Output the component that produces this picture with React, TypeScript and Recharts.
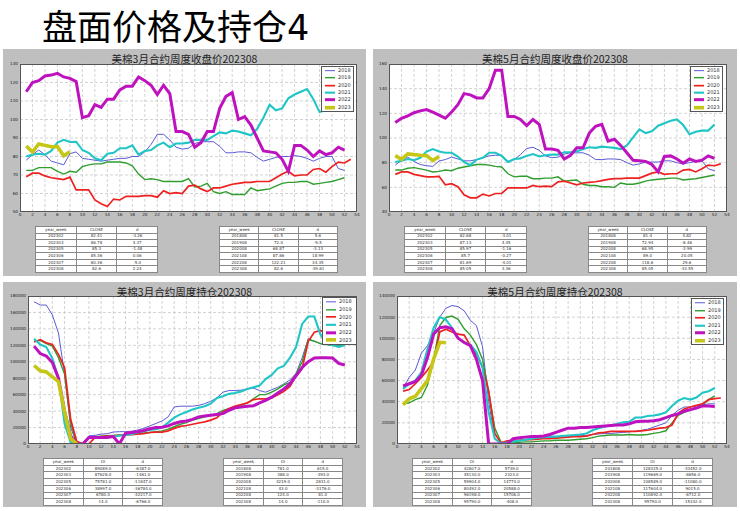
import React from 'react';
import { LineChart, Line, XAxis, YAxis, CartesianGrid, Legend } from 'recharts';

// ---------- series meta ----------
const YEARS = ['2018', '2019', '2020', '2021', '2022', '2023'];
const COLORS = ['#5b5bd6', '#2f9e2f', '#ee2020', '#20c6c6', '#bf12bf', '#c6c617'];
const WIDTHS = [1, 1.4, 1.7, 2.1, 3, 3.6];

// ---------- ticks ----------
const X_TICKS = [0, 2, 4, 6, 8, 10, 12, 14, 16, 18, 20, 22, 24, 26, 28, 30, 32, 34, 36, 38, 40, 42, 44, 46, 48, 50, 52, 54];
const Y_TICKS_MAR_CLOSE = [50, 60, 70, 80, 90, 100, 110, 120, 130];
const Y_TICKS_MAY_CLOSE = [40, 60, 80, 100, 120, 140, 160];
const Y_TICKS_MAR_OI = [0, 20000, 40000, 60000, 80000, 100000, 120000, 140000, 160000, 180000];
const Y_TICKS_MAY_OI = [0, 20000, 40000, 60000, 80000, 100000, 120000, 140000];

// ---------- 美棉3月 收盘价 (week 1..) ----------
const mar_close_2018 = [78, 81, 83.5, 81, 77.5, 76.5, 75.5, 81.5, 82.5, 79, 78.5, 78, 77.5, 78, 78.5, 79, 79, 80, 80, 82.5, 86.5, 92, 92, 89, 85, 84, 84.5, 87, 88, 88, 88, 85.5, 82, 82, 82.5, 82.5, 82, 79.5, 77.5, 78.5, 79.5, 80, 80, 80.5, 80, 79, 77.5, 79, 80, 80, 73.5, 72.5];
const mar_close_2019 = [72.5, 72.5, 74, 74, 74, 72, 70.5, 72, 71.5, 74.5, 75.5, 76, 76, 77, 77, 77, 76.5, 75, 70.5, 67.5, 68, 67.5, 66.5, 66.5, 66.5, 66.5, 68, 63.5, 64, 65.5, 61, 60, 61, 59.5, 59.5, 59.5, 63, 61.5, 62, 62.5, 64, 65.5, 66, 66, 66.5, 66.5, 65, 65.5, 66, 66.5, 67.5, 68.5];
const mar_close_2020 = [69, 71, 71, 69.5, 68.5, 68, 67.5, 68.87, 62, 62, 62, 56.5, 54.5, 53, 57, 56.5, 58.5, 58.5, 58.5, 58.8, 58.8, 58, 61.5, 60, 60.5, 60, 64, 64.5, 62.5, 61, 63, 63, 64, 65, 65.5, 66, 66, 66.5, 66.5, 66.5, 68.5, 70.5, 72, 69.5, 70, 70, 73, 73.5, 71.5, 74.5, 77, 76.5, 78.5];
const mar_close_2021 = [80, 81, 81.5, 81, 83, 87.5, 89, 87.86, 88, 83.5, 82, 79, 78, 81.5, 82, 84.5, 84.5, 86, 81, 83, 83.5, 86, 87.5, 85, 87, 87, 87.5, 89, 89, 89, 91, 93, 92.5, 94, 93.5, 92.5, 91.5, 95, 101, 108, 105, 106, 111.5, 113.5, 115, 116.5, 111, 104, 105, 106, 106, 108];
const mar_close_2022 = [115, 120, 121, 123.5, 124, 125, 123, 122.21, 120.5, 101, 102, 108, 106.5, 111, 111, 116, 118, 118, 123, 121, 118.5, 113.5, 118.5, 114, 93.5, 93.5, 92, 85, 87.5, 93.5, 93.5, 106, 112.5, 114.5, 100, 101.5, 97, 90, 83, 82.5, 82, 78.5, 72, 86, 86, 83.5, 80, 83, 81, 82, 85, 83.5];
const mar_close_2023 = [85.67, 82.41, 86.78, null, 85.3, 85.36, 80.36, 82.6];

// ---------- 美棉5月 收盘价 ----------
const may_close_2018 = [78, 82, 84.5, 81, 78.5, 77.5, 77, 81.4, 82.5, 84.5, 83, 81.5, 81.5, 82.5, 84, 85.5, 86, 86, 81, 82.5, 86.5, 91.5, 92.5, 90, 85.5, 84, 84.5, 87, 88, 88, 88, 86, 82.5, 82.5, 83, 83, 82.5, 80, 78, 79, 80.5, 80.5, 80.5, 81.5, 81.5, 80, 79, 80, 81, 81.5, 75, 73.5];
const may_close_2019 = [74, 74, 75.5, 76, 75, 74, 72.5, 72.94, 74, 73.5, 75.5, 76.5, 77.5, 78.5, 78.5, 78, 77, 76.5, 71, 68.5, 69, 69, 67, 67, 67.5, 67.5, 68.5, 65, 65.5, 66, 62.5, 61.5, 61.5, 60.5, 60.5, 60, 63.5, 62.5, 62.5, 63.5, 65, 66, 66.5, 67, 67.5, 67.5, 66, 66.5, 67, 68, 69, 70];
const may_close_2020 = [70.5, 72.5, 72.5, 70.5, 69.5, 68.5, 68.5, 68.95, 62, 63, 60.5, 54, 51.5, 51.5, 54.5, 53, 55, 55, 59.5, 59.5, 59.5, 59.5, 61.5, 60.5, 61, 60.5, 64.5, 65, 63.5, 62, 63.5, 64, 64.5, 65.5, 66.5, 67, 67, 67.5, 67.5, 67.5, 69.5, 71.5, 72.5, 70.5, 71, 71, 74, 74.5, 72.5, 75, 78, 77.5, 79];
const may_close_2021 = [80.5, 81.5, 83, 82, 84, 89, 91, 89, 88, 88, 85, 80.5, 78, 82.5, 84, 88, 88, 85.5, 80.5, 83, 83.5, 85.5, 87, 85, 86, 86.5, 86.5, 88.5, 88.5, 89, 91, 92.5, 92, 93, 92.5, 92, 91, 94, 100.5, 107, 104, 105.5, 110, 112, 114, 115, 110.5, 103, 105, 106, 106, 111];
const may_close_2022 = [112.5, 116, 118, 120.5, 122, 123, 121, 118.6, 116, 121, 127, 136, 135, 132.5, 132.5, 140, 155, 155, 117.5, 117.5, 115, 110, 115, 111, 91, 91, 90, 83, 86, 92, 92, 104, 109.5, 111, 97.5, 99, 94, 88, 82, 81.5, 81, 78.5, 72.5, 85, 85.5, 83, 79.5, 83, 81, 82, 85.5, 83.5];
const may_close_2023 = [85.69, 82.68, 87.13, null, 85.97, 85.7, 81.69, 85.05];

// ---------- 美棉3月 持仓 ----------
const mar_oi_2018 = [173000, 169000, 169000, 157000, 135000, 85000, 20000, 781, 500, 10000, 10500, 12000, 12500, 14500, 15000, 15000, 15500, 17000, 19000, 22000, 25000, 28000, 33000, 45000, 46000, 46000, 46000, 47000, 49000, 52000, 56000, 63000, 65000, 65000, 65500, 67000, 68000, 65000, 63000, 66000, 69000, 73000, 78000, 86000, 105000, 128000, 125000, 122000, 121000, 120000, 120000, 121000];
const mar_oi_2019 = [125000, 126000, 122000, 119000, 105000, 85000, 25000, 388, 0, 9000, 9000, 9500, 10000, 10500, 11000, 11000, 12000, 12500, 13500, 14000, 15000, 16000, 18000, 21000, 24000, 26000, 29000, 31000, 33000, 35000, 37000, 41000, 43000, 45000, 47000, 50000, 55000, 60000, 60000, 63000, 67000, 72000, 75000, 85000, 100000, 127000, 125000, 122000, 121000, 120000, 119000, 121000];
const mar_oi_2020 = [124000, 127000, 123000, 121000, 109000, 93000, 30000, 3219, 0, 0, 8000, 9000, 9500, 10000, 10500, 11000, 11500, 12000, 12500, 14000, 14500, 14500, 16000, 19000, 21500, 22500, 24000, 25500, 27000, 29000, 32000, 39000, 43000, 46000, 48000, 50000, 54000, 55000, 55000, 56000, 60000, 64000, 70000, 83000, 92000, 125000, 136000, 138000, 134000, 130000, 128000, 127000, 126000];
const mar_oi_2021 = [128000, 121000, 118000, 104000, 80000, 25000, 2000, 43, 0, 8500, 8500, 8500, 8500, 9000, 10000, 11000, 12000, 14000, 15500, 17000, 18000, 20000, 26000, 32000, 36000, 39000, 42000, 44000, 46000, 49000, 56000, 58000, 61000, 62000, 64000, 67000, 69000, 71000, 79000, 84000, 92000, 95000, 105000, 118000, 146000, 155000, 155000, 133000, 122000, 120000, 118000, 120000];
const mar_oi_2022 = [119000, 110000, 107000, 99000, 80000, 40000, 10000, 124, 0, 8000, 8000, 8000, 8000, 9000, 0, 13000, 14000, 15000, 16500, 18500, 20000, 20500, 22000, 25000, 27000, 28000, 30000, 33000, 34000, 35000, 36000, 37000, 41000, 44000, 45000, 46000, 46500, 50000, 53000, 57000, 62000, 67000, 73000, 83000, 93000, 100000, 104500, 105000, 105000, 104500, 98000, 96000];
const mar_oi_2023 = [95476, 89089, 87628, null, 75781, 38997, 6780, 14];

// ---------- 美棉5月 持仓 ----------
const may_oi_2018 = [53000, 63000, 70000, 86000, 93000, 105000, 120000, 128325, 131000, 130000, 126000, 117000, 112000, 92000, 40000, 5000, 0, 2000, 3000, 3500, 4000, 4500, 5000, 5500, 6000, 6000, 6500, 7000, 7500, 8000, 8000, 9000, 9500, 10000, 10000, 10500, 11000, 11500, 12000, 13000, 14000, 16000, 18000, 20000, 27000, 32000, 35000, 35000, 36000, 37000, 38000, 38000];
const may_oi_2019 = [38000, 39000, 42000, 44000, 56000, 80000, 112000, 119669, 121000, 118000, 109000, 103000, 94000, 80000, 50000, 15000, 2000, 500, 1000, 1500, 2000, 2000, 2500, 3000, 3000, 3500, 3500, 3500, 4000, 4500, 5000, 6000, 7500, 8000, 8500, 8500, 8500, 9000, 8500, 8500, 9000, 10000, 11000, 12500, 20000, 27000, 30000, 32000, 34000, 37000, 42000, 45500];
const may_oi_2020 = [50000, 51500, 57000, 63000, 70000, 78000, 106000, 108589, 106000, 104000, 103000, 93000, 85000, 73000, 50000, 10000, 1000, 3000, 3500, 3500, 4000, 4000, 4500, 5000, 5000, 5500, 6000, 6500, 7000, 7000, 7500, 9000, 10500, 11000, 12000, 12000, 12000, 12000, 12000, 12500, 13000, 14000, 15000, 15500, 18000, 29000, 33000, 35000, 36500, 38000, 42000, 43000, 43500];
const may_oi_2021 = [52000, 57000, 60000, 68000, 90000, 110000, 120000, 117604, 110000, 100000, 96000, 94000, 87000, 72000, 30000, 5000, 500, 1500, 2500, 3000, 4000, 5000, 6000, 6500, 7000, 7000, 7500, 8000, 8500, 9000, 10000, 13000, 15000, 16500, 17500, 19000, 20500, 21000, 25000, 25000, 26500, 27000, 28000, 30000, 36000, 41000, 43500, 42000, 44000, 48500, 50000, 53000];
const may_oi_2022 = [55000, 57000, 59000, 65000, 82000, 104000, 110000, 110892, 109000, 100000, 96000, 93000, 80000, 60000, 0, 0, 0, 0, 5000, 6000, 6500, 7000, 7000, 7500, 9000, 11000, 13000, 15000, 15000, 15500, 15500, 16000, 16500, 17000, 17500, 18000, 18000, 19000, 21000, 21500, 21500, 22000, 23000, 25000, 27000, 28500, 31000, 32500, 34000, 36000, 36000, 35500];
const may_oi_2023 = [37068, 42807, 45130, null, 59904, 80492, 96198, 95790];

// ---------- tables ----------
const HEAD_CLOSE = ['year_week', 'CLOSE', 'd'];
const HEAD_OI = ['year_week', 'OI', 'd'];
const T_MAR_CLOSE_A = [['202302', '82.41', '-3.26'], ['202303', '86.78', '4.37'], ['202305', '85.3', '-1.48'], ['202306', '85.36', '0.06'], ['202307', '80.36', '-5.0'], ['202308', '82.6', '2.24']];
const T_MAR_CLOSE_B = [['201808', '81.5', '5.6'], ['201908', '72.0', '-9.5'], ['202008', '68.87', '-3.13'], ['202108', '87.86', '18.99'], ['202208', '122.21', '34.35'], ['202308', '82.6', '-39.61']];
const T_MAY_CLOSE_A = [['202302', '82.68', '-3.01'], ['202303', '87.13', '4.45'], ['202305', '85.97', '-1.16'], ['202306', '85.7', '-0.27'], ['202307', '81.69', '-4.01'], ['202308', '85.05', '3.36']];
const T_MAY_CLOSE_B = [['201808', '81.4', '4.82'], ['201908', '72.94', '-8.46'], ['202008', '68.95', '-3.99'], ['202108', '89.0', '20.05'], ['202208', '118.6', '29.6'], ['202308', '85.05', '-33.55']];
const T_MAR_OI_A = [['202302', '89089.0', '-6387.0'], ['202303', '87628.0', '-1461.0'], ['202305', '75781.0', '-11847.0'], ['202306', '38997.0', '-36784.0'], ['202307', '6780.0', '-32217.0'], ['202308', '14.0', '-6766.0']];
const T_MAR_OI_B = [['201808', '781.0', '615.0'], ['201908', '388.0', '-393.0'], ['202008', '3219.0', '2831.0'], ['202108', '43.0', '-3176.0'], ['202208', '124.0', '81.0'], ['202308', '14.0', '-110.0']];
const T_MAY_OI_A = [['202302', '42807.0', '5739.0'], ['202303', '45130.0', '2323.0'], ['202305', '59904.0', '14774.0'], ['202306', '80492.0', '20588.0'], ['202307', '96198.0', '15706.0'], ['202308', '95790.0', '-408.0']];
const T_MAY_OI_B = [['201808', '128325.0', '-33452.0'], ['201908', '119669.0', '-8656.0'], ['202008', '108589.0', '-11080.0'], ['202108', '117604.0', '9015.0'], ['202208', '110892.0', '-6712.0'], ['202308', '95790.0', '-15102.0']];

type Val = number | null;

function buildRows(series: Val[][]) {
  const n = Math.max(...series.map((s) => s.length));
  const rows: any[] = [];
  for (let i = 0; i < n; i++) {
    const r: any = { week: i + 1 };
    series.forEach((s, k) => {
      r['y' + YEARS[k]] = i < s.length ? s[i] : undefined;
    });
    rows.push(r);
  }
  return rows;
}

const makeLegend = (w: number, h: number) => (props: any) => {
  const payload = props.payload || [];
  const pitch = (h - 2) / Math.max(1, payload.length);
  return (
    <div
      style={{
        width: w,
        height: h,
        boxSizing: 'border-box',
        background: '#fff',
        border: '1px solid #555',
        fontFamily: 'DejaVu Sans, sans-serif',
        fontSize: 5,
        color: '#333',
      }}
    >
      {payload.map((p: any, i: number) => {
        const idx = YEARS.indexOf(String(p.value));
        return (
          <div key={i} style={{ height: pitch, display: 'flex', alignItems: 'center' }}>
            <svg width={16} height={pitch} style={{ display: 'block', flex: 'none' }}>
              <line x1={3} x2={13} y1={pitch / 2} y2={pitch / 2} stroke={p.color} strokeWidth={WIDTHS[idx]} />
            </svg>
            <span style={{ lineHeight: 1, whiteSpace: 'nowrap' }}>{p.value}</span>
          </div>
        );
      })}
    </div>
  );
};

function DataTable(props: { x: number; y: number; w: number; h: number; head: string[]; rows: string[][] }) {
  const { x, y, w, h, head, rows } = props;
  const all = [head, ...rows];
  const rh = h / all.length;
  return (
    <table
      style={{
        position: 'absolute',
        left: x,
        top: y,
        width: w,
        height: h,
        borderCollapse: 'collapse',
        tableLayout: 'fixed',
        background: '#fff',
        border: '1px solid #666',
        fontFamily: 'DejaVu Sans, sans-serif',
        fontSize: 4,
        color: '#333',
      }}
    >
      <tbody>
        {all.map((r, i) => (
          <tr key={i} style={{ height: rh }}>
            {r.map((c, j) => (
              <td
                key={j}
                style={{
                  border: '1px solid #888',
                  padding: 0,
                  textAlign: 'center',
                  lineHeight: '4px',
                  overflow: 'hidden',
                  whiteSpace: 'nowrap',
                }}
              >
                {c}
              </td>
            ))}
          </tr>
        ))}
      </tbody>
    </table>
  );
}

type PanelProps = {
  x: number;
  y: number;
  w: number;
  h: number;
  title: string;
  series: Val[][];
  yTicks: number[];
  plot: { left: number; top: number; right: number; bottom: number };
  legend: { x: number; y: number; w: number; h: number };
  tables: { x: number; y: number; w: number; h: number; head: string[]; rows: string[][] }[];
};

function Panel(p: PanelProps) {
  const rows = buildRows(p.series);
  const CH = 180;
  const XH = 12;
  const yDomain = [p.yTicks[0], p.yTicks[p.yTicks.length - 1]];
  return (
    <div style={{ position: 'absolute', left: p.x, top: p.y, width: p.w, height: p.h, background: '#bfbfbf', overflow: 'hidden' }}>
      <div style={{ position: 'absolute', left: 0, top: 0 }}>
        <LineChart
          width={p.w}
          height={CH}
          data={rows}
          margin={{ top: p.plot.top, right: p.w - p.plot.right, left: 0, bottom: CH - p.plot.bottom - XH }}
        >
          <CartesianGrid stroke="#c8c8c8" strokeWidth={0.8} strokeDasharray="3 2" fill="#ffffff" />
          <XAxis
            dataKey="week"
            type="number"
            domain={[0, 54]}
            ticks={X_TICKS}
            interval={0}
            allowDataOverflow
            height={XH}
            tickLine={false}
            axisLine={false}
            tickSize={1}
            tickMargin={0}
            tick={{ fontSize: 4.2, fill: '#222', fontFamily: 'DejaVu Sans' }}
          />
          <YAxis
            type="number"
            domain={yDomain}
            ticks={p.yTicks}
            interval={0}
            allowDataOverflow
            width={p.plot.left}
            tickLine={false}
            axisLine={false}
            tickSize={1}
            tickMargin={1}
            tick={{ fontSize: 4.2, fill: '#222', fontFamily: 'DejaVu Sans' }}
          />
          {YEARS.map((yr, k) => (
            <Line
              key={yr}
              type="linear"
              dataKey={'y' + yr}
              name={yr}
              stroke={COLORS[k]}
              strokeWidth={WIDTHS[k]}
              dot={false}
              activeDot={false}
              connectNulls={yr === '2023'}
              legendType="plainline"
              isAnimationActive={false}
            />
          ))}
          <Legend
            layout="vertical"
            align="center"
            verticalAlign="middle"
            content={makeLegend(p.legend.w, p.legend.h)}
            wrapperStyle={{ left: p.legend.x, top: p.legend.y, width: p.legend.w, height: p.legend.h, right: 'auto', bottom: 'auto' }}
          />
        </LineChart>
      </div>
      <div
        style={{
          position: 'absolute',
          left: p.plot.left,
          top: p.plot.top,
          width: p.plot.right - p.plot.left,
          height: p.plot.bottom - p.plot.top,
          boxSizing: 'border-box',
          border: '1px solid #555',
          pointerEvents: 'none',
        }}
      />
      <div
        style={{
          position: 'absolute',
          left: 0,
          top: 3.5,
          width: p.w,
          textAlign: 'center',
          fontFamily: '"Noto Sans CJK SC", sans-serif',
          fontSize: 10.5,
          lineHeight: '12px',
          color: '#222',
        }}
      >
        {p.title}
      </div>
      {p.tables.map((t, i) => (
        <DataTable key={i} {...t} />
      ))}
    </div>
  );
}

export default function App() {
  return (
    <div style={{ position: 'absolute', left: 0, top: 0, width: 740, height: 511, background: '#fff', overflow: 'hidden' }}>
      <div
        style={{
          position: 'absolute',
          left: 42,
          top: 8,
          fontFamily: '"DejaVu Sans", "Noto Sans CJK SC", sans-serif',
          fontSize: 35,
          lineHeight: '41px',
          color: '#000',
          whiteSpace: 'nowrap',
        }}
      >
        盘面价格及持仓4
      </div>
      <Panel
        x={3}
        y={49}
        w={363}
        h={227}
        title="美棉3月合约周度收盘价202308"
        series={[mar_close_2018, mar_close_2019, mar_close_2020, mar_close_2021, mar_close_2022, mar_close_2023]}
        yTicks={Y_TICKS_MAR_CLOSE}
        plot={{ left: 17, top: 15, right: 354, bottom: 163 }}
        legend={{ x: 318, y: 17, w: 33, h: 46 }}
        tables={[
          { x: 32, y: 177, w: 123, h: 46, head: HEAD_CLOSE, rows: T_MAR_CLOSE_A },
          { x: 216, y: 177, w: 119, h: 46, head: HEAD_CLOSE, rows: T_MAR_CLOSE_B },
        ]}
      />
      <Panel
        x={373}
        y={49}
        w={364}
        h={227}
        title="美棉5月合约周度收盘价202308"
        series={[may_close_2018, may_close_2019, may_close_2020, may_close_2021, may_close_2022, may_close_2023]}
        yTicks={Y_TICKS_MAY_CLOSE}
        plot={{ left: 16, top: 15, right: 354, bottom: 163 }}
        legend={{ x: 317, y: 17, w: 33, h: 46 }}
        tables={[
          { x: 31, y: 177, w: 123, h: 46, head: HEAD_CLOSE, rows: T_MAY_CLOSE_A },
          { x: 215, y: 177, w: 119, h: 46, head: HEAD_CLOSE, rows: T_MAY_CLOSE_B },
        ]}
      />
      <Panel
        x={3}
        y={282}
        w={363}
        h={225}
        title="美棉3月合约周度持仓202308"
        series={[mar_oi_2018, mar_oi_2019, mar_oi_2020, mar_oi_2021, mar_oi_2022, mar_oi_2023]}
        yTicks={Y_TICKS_MAR_OI}
        plot={{ left: 25, top: 14, right: 354, bottom: 162 }}
        legend={{ x: 319, y: 15, w: 35, h: 48 }}
        tables={[
          { x: 40, y: 176, w: 120, h: 47, head: HEAD_OI, rows: T_MAR_OI_A },
          { x: 220, y: 176, w: 120, h: 47, head: HEAD_OI, rows: T_MAR_OI_B },
        ]}
      />
      <Panel
        x={373}
        y={282}
        w={364}
        h={225}
        title="美棉5月合约周度持仓202308"
        series={[may_oi_2018, may_oi_2019, may_oi_2020, may_oi_2021, may_oi_2022, may_oi_2023]}
        yTicks={Y_TICKS_MAY_OI}
        plot={{ left: 24, top: 14, right: 354, bottom: 162 }}
        legend={{ x: 318, y: 16, w: 33, h: 47 }}
        tables={[
          { x: 39, y: 176, w: 120, h: 47, head: HEAD_OI, rows: T_MAY_OI_A },
          { x: 219, y: 176, w: 121, h: 47, head: HEAD_OI, rows: T_MAY_OI_B },
        ]}
      />
    </div>
  );
}
